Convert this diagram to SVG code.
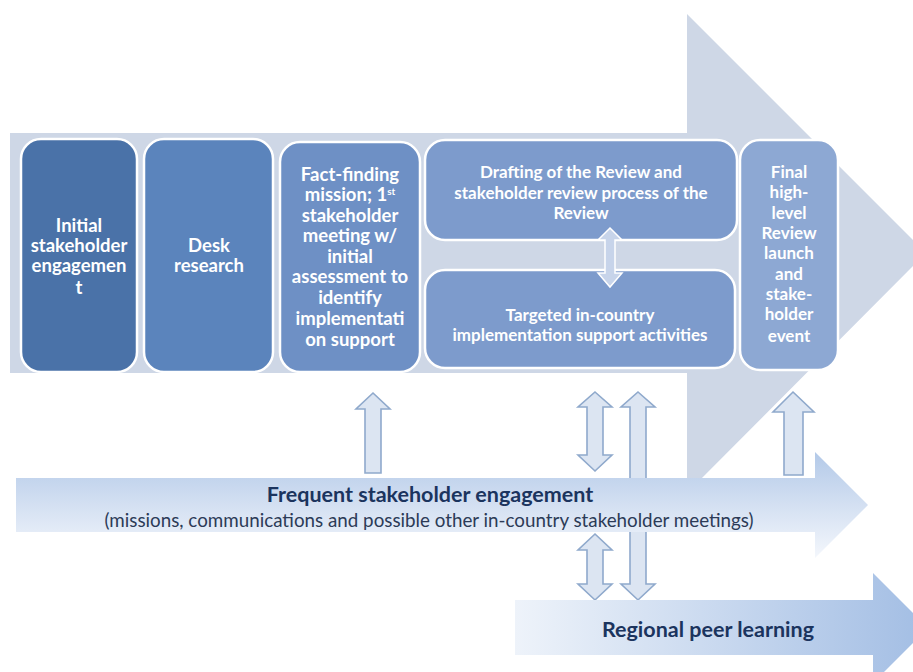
<svg xmlns="http://www.w3.org/2000/svg" width="913" height="672" viewBox="0 0 913 672">
  <defs>
    <linearGradient id="gradFrequent" x1="0" y1="452" x2="0" y2="558" gradientUnits="userSpaceOnUse">
      <stop offset="0" stop-color="#B3C9E8"/>
      <stop offset="1" stop-color="#F4F7FC"/>
    </linearGradient>
    <linearGradient id="gradRegional" x1="515" y1="0" x2="925" y2="0" gradientUnits="userSpaceOnUse">
      <stop offset="0" stop-color="#EEF3FA"/>
      <stop offset="1" stop-color="#A3BEE4"/>
    </linearGradient>
    <style>
      .node rect { stroke: #FFFFFF; stroke-width: 2.5; }
      .label { font-family: Lato, "Liberation Sans", sans-serif; font-weight: bold; fill: #FFFFFF; text-anchor: middle; }
      .big { font-size: 18.5px; }
      .mid { font-size: 17px; }
      .hollow { fill: #DCE5F2; stroke: #8FA9CC; stroke-width: 1.6; stroke-linejoin: miter; }
      .inner { fill: #C7D4EA; stroke: #FFFFFF; stroke-width: 1.5; }
      .bandTitle { font-family: Lato, "Liberation Sans", sans-serif; font-weight: bold; fill: #1B345E; text-anchor: middle; }
      .bandSub { font-family: Lato, "Liberation Sans", sans-serif; fill: #2C3B57; text-anchor: middle; font-size: 18.8px; }
    </style>
  </defs>

  <!-- main process arrow (background) -->
  <g id="process-arrow">
    <polygon points="10,133 687,133 687,14 926,253 687,493 687,373 10,373" fill="#CED7E6"/>
  </g>

  <!-- process steps -->
  <g id="node-initial" class="node">
    <rect x="21" y="139" width="116" height="233" rx="20" fill="#4A72A8"/>
    <text class="label big" x="79" y="232">Initial</text>
    <text class="label big" x="79" y="252">stakeholder</text>
    <text class="label big" x="79" y="272">engagemen</text>
    <text class="label big" x="79" y="294">t</text>
  </g>
  <g id="node-desk" class="node">
    <rect x="144" y="139" width="129" height="233" rx="20" fill="#5B84BC"/>
    <text class="label big" x="209" y="252">Desk</text>
    <text class="label big" x="209" y="272">research</text>
  </g>
  <g id="node-factfinding" class="node">
    <rect x="280" y="142" width="140" height="230" rx="20" fill="#6E90C5"/>
    <text class="label big" x="350" y="181">Fact-finding</text>
    <text class="label big" x="350" y="201">mission; 1<tspan font-size="10" dy="-6">st</tspan></text>
    <text class="label big" x="350" y="222">stakeholder</text>
    <text class="label big" x="350" y="242">meeting w/</text>
    <text class="label big" x="350" y="263">initial</text>
    <text class="label big" x="350" y="283">assessment to</text>
    <text class="label big" x="350" y="304">identify</text>
    <text class="label big" x="350" y="325">implementati</text>
    <text class="label big" x="350" y="346">on support</text>
  </g>
  <g id="node-drafting" class="node">
    <rect x="425" y="140" width="312" height="100" rx="20" fill="#7D9BCC"/>
    <text class="label mid" x="581" y="178">Drafting of the Review and</text>
    <text class="label mid" x="581" y="199">stakeholder review process of the</text>
    <text class="label mid" x="581" y="219">Review</text>
  </g>
  <g id="node-targeted" class="node">
    <rect x="425" y="270" width="310" height="98" rx="20" fill="#7D9BCC"/>
    <text class="label mid" x="580" y="321">Targeted in-country</text>
    <text class="label mid" x="580" y="341">implementation support activities</text>
  </g>
  <g id="node-final" class="node">
    <rect x="740" y="140" width="98" height="230" rx="20" fill="#8DA8D3"/>
    <text class="label mid" x="789" y="178">Final</text>
    <text class="label mid" x="789" y="198">high-</text>
    <text class="label mid" x="789" y="219">level</text>
    <text class="label mid" x="789" y="239">Review</text>
    <text class="label mid" x="789" y="259">launch</text>
    <text class="label mid" x="789" y="280">and</text>
    <text class="label mid" x="789" y="300">stake-</text>
    <text class="label mid" x="789" y="320">holder</text>
    <text class="label mid" x="789" y="342">event</text>
  </g>

  <!-- connectors -->
  <g id="connectors">
    <!-- drafting <-> targeted -->
    <polygon class="inner" points="610,228 622,240 615,240 615,273 622,273 610,287 598,273 605,273 605,240 598,240"/>
    <!-- engagement -> fact-finding -->
    <polygon class="hollow" points="373,393 390,409 381,409 381,473 365,473 365,409 356,409"/>
    <!-- engagement <-> drafting/targeted -->
    <polygon class="hollow" points="595,392 612,407 603,407 603,455 612,455 595,471 578,455 587,455 587,407 578,407"/>
    <!-- regional <-> drafting/targeted (long, passes behind band) -->
    <polygon class="hollow" points="638,392 655,407 646,407 646,584 655,584 638,600 621,584 630,584 630,407 621,407"/>
    <!-- engagement <-> regional -->
    <polygon class="hollow" points="595,534 612,550 603,550 603,584 612,584 595,600 578,584 587,584 587,550 578,550"/>
    <!-- engagement -> final event -->
    <polygon class="hollow" points="793,392 814,412 803,412 803,475 784,475 784,412 773,412"/>
  </g>

  <!-- frequent stakeholder engagement band -->
  <g id="band-frequent">
    <polygon points="16,478 815,478 815,452 868,505 815,558 815,532 16,532" fill="url(#gradFrequent)"/>
    <text class="bandTitle" x="430" y="502" font-size="21.5">Frequent stakeholder engagement</text>
    <text class="bandSub" x="429" y="527">(missions, communications and possible other in-country stakeholder meetings)</text>
  </g>

  <!-- regional peer learning band -->
  <g id="band-regional">
    <polygon points="515,600 873,600 873,573 928,628 873,683 873,655 515,655" fill="url(#gradRegional)"/>
    <text class="bandTitle" x="708" y="637" font-size="21.5">Regional peer learning</text>
  </g>
</svg>
